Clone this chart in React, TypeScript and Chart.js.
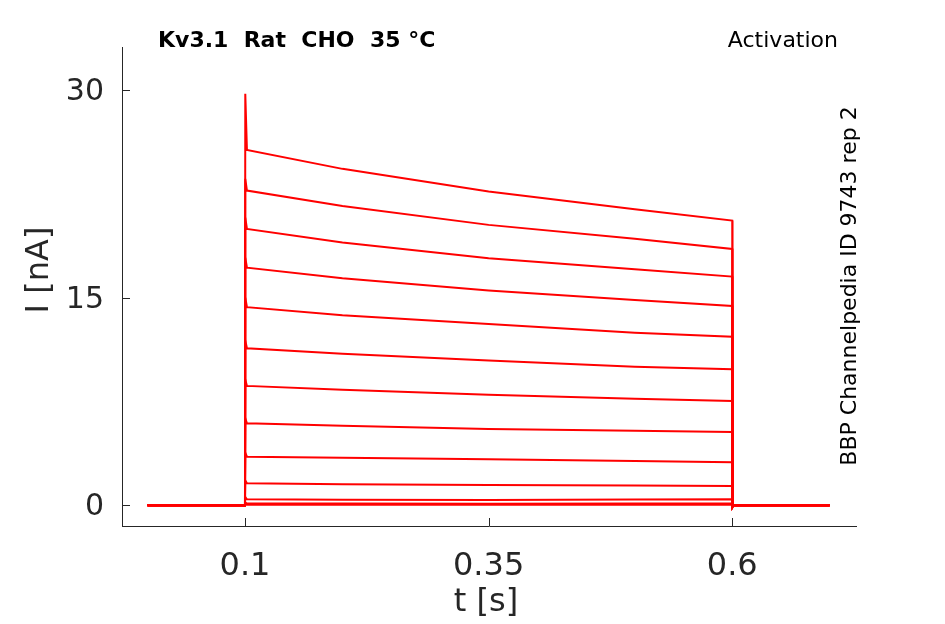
import { useEffect, useRef } from "react"
import { Chart, registerables } from "chart.js"

Chart.register(...registerables)

// sample times (s) shared by every sweep
const timePoints = [0, 0.1, 0.1003, 0.102, 0.2, 0.35, 0.5, 0.6, 0.6003, 0.601, 0.7]

// current (nA) per sweep
const sweep01 = [0, 0, 29.75, 25.69, 24.32, 22.68, 21.4, 20.58, -0.1, 0, 0]
const sweep02 = [0, 0, 23.6, 22.75, 21.64, 20.27, 19.26, 18.53, -0.1, 0, 0]
const sweep03 = [0, 0, 20.8, 19.98, 18.99, 17.86, 17.06, 16.53, -0.1, 0, 0]
const sweep04 = [0, 0, 17.9, 17.18, 16.41, 15.52, 14.84, 14.41, -0.1, 0, 0]
const sweep05 = [0, 0, 15.0, 14.32, 13.74, 13.11, 12.48, 12.19, -0.1, 0, 0]
const sweep06 = [0, 0, 11.9, 11.35, 10.95, 10.46, 10.02, 9.83, -0.05, 0, 0]
const sweep07 = [0, 0, 9.1, 8.63, 8.35, 7.98, 7.7, 7.54, -0.05, 0, 0]
const sweep08 = [0, 0, 6.3, 5.93, 5.75, 5.52, 5.38, 5.3, -0.05, 0, 0]
const sweep09 = [0, 0, 3.8, 3.51, 3.43, 3.33, 3.2, 3.11, 0, 0, 0]
const sweep10 = [0, 0, 1.8, 1.59, 1.52, 1.47, 1.42, 1.4, 0, 0, 0]
const sweep11 = [0, 0, 0.6, 0.43, 0.4, 0.38, 0.42, 0.43, 0, 0, 0]
const sweep12 = [0, 0, 0.2, 0.12, 0.12, 0.11, 0.12, 0.12, 0, 0, 0]
const sweep13 = [0, 0, 0.05, 0.03, 0.03, 0.03, 0.03, 0.03, 0, 0, 0]

const sweeps = [
  sweep01, sweep02, sweep03, sweep04, sweep05, sweep06, sweep07,
  sweep08, sweep09, sweep10, sweep11, sweep12, sweep13,
]

const xTicks = [0.1, 0.35, 0.6]
const yTicks = [0, 15, 30]

const FONT = '"DejaVu Sans", sans-serif'
const AXIS_COLOR = "#262626"

// inward tick marks plus all the free text around the axes
const annotations = {
  id: "annotations",
  afterDraw(chart: any) {
    const { ctx, chartArea, scales } = chart
    ctx.save()
    ctx.strokeStyle = AXIS_COLOR
    ctx.lineWidth = 1
    yTicks.forEach((v) => {
      const y = Math.round(scales.y.getPixelForValue(v)) + 0.5
      ctx.beginPath()
      ctx.moveTo(chartArea.left, y)
      ctx.lineTo(chartArea.left + 8, y)
      ctx.stroke()
    })
    xTicks.forEach((v) => {
      const x = Math.round(scales.x.getPixelForValue(v)) + 0.5
      ctx.beginPath()
      ctx.moveTo(x, chartArea.bottom)
      ctx.lineTo(x, chartArea.bottom - 8)
      ctx.stroke()
    })

    ctx.fillStyle = "#000"
    ctx.textBaseline = "alphabetic"
    ctx.font = `bold 22px ${FONT}`
    ctx.textAlign = "left"
    ctx.fillText("Kv3.1  Rat  CHO  35 °C", 158, 47)
    ctx.font = `22px ${FONT}`
    ctx.textAlign = "right"
    ctx.fillText("Activation", 838, 47)

    ctx.save()
    ctx.translate(850, 286)
    ctx.rotate(-Math.PI / 2)
    ctx.textAlign = "center"
    ctx.textBaseline = "middle"
    ctx.fillText("BBP Channelpedia ID 9743 rep 2", 0, 0)
    ctx.restore()

    ctx.fillStyle = AXIS_COLOR
    ctx.font = `32px ${FONT}`
    ctx.textAlign = "center"
    ctx.textBaseline = "middle"
    ctx.fillText("t [s]", 486, 603)
    ctx.save()
    ctx.translate(40, 270)
    ctx.rotate(-Math.PI / 2)
    ctx.fillText("I [nA]", 0, 0)
    ctx.restore()
    ctx.restore()
  },
}

export default function App() {
  const chartRef = useRef<HTMLCanvasElement>(null)
  const chartInstance = useRef<Chart | null>(null)

  useEffect(() => {
    if (!chartRef.current) return
    if (chartInstance.current) chartInstance.current.destroy()
    const ctx = chartRef.current.getContext("2d")
    if (!ctx) return

    const datasets = sweeps.map((sweep, i) => ({
      label: `Sweep ${i + 1}`,
      data: timePoints.map((t, j) => ({ x: t, y: sweep[j] })),
      showLine: true,
      borderColor: "#ff0000",
      backgroundColor: "#ff0000",
      borderWidth: 2,
      pointRadius: 0,
      tension: 0,
    }))

    chartInstance.current = new Chart(ctx, {
      type: "scatter",
      data: { datasets },
      options: {
        responsive: true,
        maintainAspectRatio: false,
        animation: false,
        layout: { padding: { left: 0, top: 47, right: 89, bottom: 0 } },
        scales: {
          x: {
            type: "linear",
            min: -0.0262,
            max: 0.727,
            afterBuildTicks: (scale: any) => {
              scale.ticks = xTicks.map((v) => ({ value: v }))
            },
            afterFit: (scale: any) => {
              scale.height = 98
            },
            grid: { display: false, drawTicks: false },
            border: { display: true, color: AXIS_COLOR, width: 1 },
            ticks: {
              color: AXIS_COLOR,
              font: { family: FONT, size: 32 },
              padding: 21,
              maxRotation: 0,
              callback: (v: any) => String(v),
            },
          },
          y: {
            type: "linear",
            min: -1.5,
            max: 33.13,
            afterBuildTicks: (scale: any) => {
              scale.ticks = yTicks.map((v) => ({ value: v }))
            },
            afterFit: (scale: any) => {
              scale.width = 122
            },
            grid: { display: false, drawTicks: false },
            border: { display: true, color: AXIS_COLOR, width: 1 },
            ticks: {
              color: AXIS_COLOR,
              font: { family: FONT, size: 30 },
              padding: 18,
              labelOffset: 2,
              callback: (v: any) => String(v),
            },
          },
        },
        plugins: {
          legend: { display: false },
          tooltip: { enabled: false },
        },
      },
      plugins: [annotations],
    })

    return () => {
      if (chartInstance.current) {
        chartInstance.current.destroy()
        chartInstance.current = null
      }
    }
  }, [])

  return (
    <div style={{ position: "fixed", left: 0, top: 0, width: 945, height: 624, background: "#fff" }}>
      <canvas ref={chartRef} />
    </div>
  )
}
